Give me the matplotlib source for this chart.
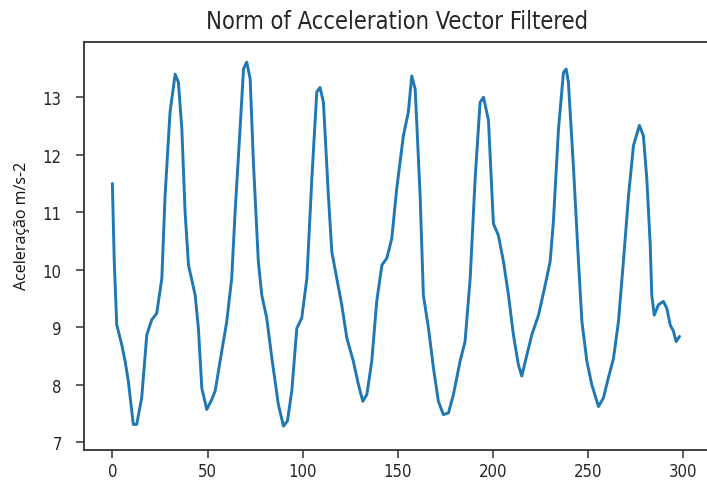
import matplotlib
matplotlib.use("Agg")
import matplotlib.pyplot as plt

# Sample index and filtered acceleration norm (m/s^2)
sample = [0, 1.0, 2.3, 4.9, 6.7, 8.4, 11.0, 12.8, 15.4, 18.1, 20.7, 23.3, 26.0, 27.7,
          30.3, 33.0, 34.7, 36.5, 38.2, 40.0, 43.5, 45.2, 47.0, 49.6, 52.2, 54.0, 56.6,
          60.1, 62.7, 64.5, 67.1, 68.9, 70.6, 72.4, 74.1, 76.7, 78.5, 81.1, 83.8, 87.2,
          89.9, 92.0, 94.3, 96.9, 99.5, 102.2, 104.8, 107.4, 109.1, 110.9, 113.5, 115.3,
          117.9, 120.5, 123.2, 126.6, 129.3, 131.6, 133.7, 136.3, 138.9, 141.6, 144.2,
          146.8, 149.4, 152.9, 155.5, 157.3, 159.1, 161.7, 163.4, 166.1, 168.7, 171.3,
          173.9, 176.6, 179.2, 182.7, 185.3, 188.0, 190.6, 193.2, 195.0, 197.6, 200.2,
          202.8, 205.5, 208.1, 210.7, 213.3, 215.1, 217.8, 220.4, 223.9, 227.4, 230.0,
          231.7, 234.4, 237.0, 238.4, 239.6, 242.3, 244.9, 246.7, 249.3, 251.9, 255.4,
          258.0, 260.6, 263.3, 265.9, 268.5, 271.2, 273.8, 276.9, 279.0, 280.8, 282.6,
          283.4, 284.7, 286.9, 289.5, 291.3, 293.1, 294.8, 296.2, 298.0]

accel_norm = [11.50, 10.14, 9.04, 8.70, 8.41, 8.06, 7.31, 7.31, 7.77, 8.87, 9.13, 9.24,
              9.85, 11.29, 12.74, 13.40, 13.26, 12.45, 11.01, 10.08, 9.56, 8.98, 7.94,
              7.57, 7.74, 7.89, 8.41, 9.10, 9.85, 11.01, 12.45, 13.49, 13.61, 13.32,
              11.87, 10.14, 9.56, 9.16, 8.46, 7.66, 7.28, 7.37, 7.90, 8.98, 9.16, 9.85,
              11.58, 13.09, 13.17, 12.91, 11.29, 10.31, 9.85, 9.39, 8.81, 8.41, 8.00,
              7.71, 7.83, 8.41, 9.45, 10.08, 10.20, 10.54, 11.41, 12.33, 12.74, 13.37,
              13.14, 11.29, 9.56, 8.98, 8.29, 7.71, 7.48, 7.51, 7.83, 8.41, 8.75, 9.85,
              11.58, 12.91, 13.00, 12.60, 10.80, 10.60, 10.14, 9.56, 8.87, 8.35, 8.15,
              8.52, 8.87, 9.21, 9.73, 10.14, 10.83, 12.45, 13.43, 13.49, 13.26, 11.76,
              10.14, 9.10, 8.41, 8.00, 7.62, 7.77, 8.12, 8.46, 9.10, 10.14, 11.29, 12.16,
              12.51, 12.33, 11.58, 10.43, 9.56, 9.21, 9.39, 9.45, 9.33, 9.04, 8.93, 8.75,
              8.84]

x_ticks = [0, 50, 100, 150, 200, 250, 300]
y_ticks = [7, 8, 9, 10, 11, 12, 13]

title = "Norm of Acceleration Vector Filtered"
y_label = "Aceleração m/s-2"

fig = plt.figure(figsize=(7.07, 4.81), dpi=100)
# the right spine falls just past the right edge of the canvas
ax = fig.add_axes([84 / 707, 30.3 / 481, 626 / 707, 407.7 / 481])

ax.plot(sample, accel_norm, color="#1f77b4", linewidth=2.1,
        solid_joinstyle="round", solid_capstyle="round")

ax.set_xlim(-14.9, 314.0)
ax.set_ylim(6.87, 13.96)
ax.set_xticks(x_ticks)
ax.set_yticks(y_ticks)

tick_font = dict(family=["DejaVu Sans"], stretch="condensed", size=12)
ax.set_xticklabels([str(t) for t in x_ticks], fontdict=tick_font, color="#262626")
ax.set_yticklabels([str(t) for t in y_ticks], fontdict=tick_font, color="#262626")
ax.tick_params(axis="both", length=6, width=1.1, color="#333333")
ax.tick_params(axis="y", pad=10)
ax.tick_params(axis="x", pad=3)
for s in ax.spines.values():
    s.set_linewidth(1.3)
    s.set_color("#333333")

ax.set_title(title, family=["DejaVu Sans"], stretch="condensed", fontsize=17,
             color="#262626", pad=10)

fig.text(22 / 707, 1 - 226 / 481, y_label, rotation=90, ha="center", va="center",
         family=["Open Sans"], fontsize=11.5, color="#111111")

fig.savefig("out.png", dpi=100)
